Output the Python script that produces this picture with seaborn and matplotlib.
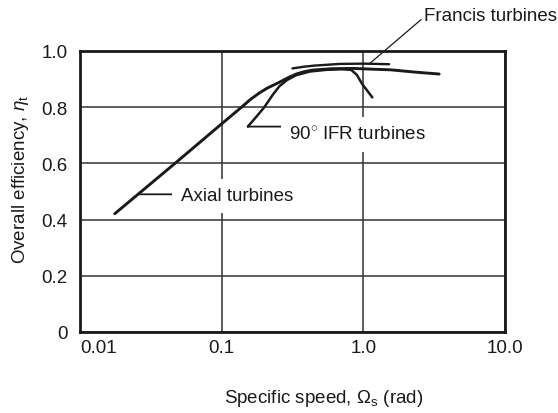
import matplotlib
matplotlib.use("Agg")
import matplotlib.pyplot as plt
import seaborn as sns
import pandas as pd

# Specific speed (rad) and overall efficiency for each turbine family
axial_speed = [0.0176, 0.0468, 0.099, 0.138, 0.16, 0.185, 0.21, 0.256, 0.30,
               0.336, 0.38, 0.437, 0.60, 0.85, 1.2, 1.56, 2.3, 3.43]
axial_eff = [0.421, 0.600, 0.739, 0.800, 0.828, 0.851, 0.868, 0.889, 0.907,
             0.918, 0.926, 0.932, 0.937, 0.938, 0.935, 0.933, 0.925, 0.918]

francis_speed = [0.316, 0.38, 0.45, 0.68, 1.0, 1.52]
francis_eff = [0.938, 0.944, 0.948, 0.954, 0.955, 0.953]

ifr_speed = [0.153, 0.175, 0.20, 0.23, 0.256, 0.29, 0.336, 0.42, 0.55, 0.70, 0.82,
             0.90, 0.98, 1.157]
ifr_eff = [0.731, 0.765, 0.800, 0.845, 0.875, 0.897, 0.914, 0.927, 0.933, 0.935, 0.933,
           0.915, 0.883, 0.835]

x_ticks = [0.01, 0.1, 1.0, 10.0]
x_tick_labels = ["0.01", "0.1", "1.0", "10.0"]
y_ticks = [0, 0.2, 0.4, 0.6, 0.8, 1.0]
y_tick_labels = ["0", "0.2", "0.4", "0.6", "0.8", "1.0"]

sns.set_theme(style="white")
plt.rcParams["font.family"] = ["Liberation Sans", "DejaVu Sans"]
plt.rcParams["mathtext.fontset"] = "custom"
plt.rcParams["mathtext.rm"] = "Liberation Sans"
plt.rcParams["mathtext.it"] = "Liberation Sans:italic"

FS = 13.5
INK = "#1a1a1a"

fig = plt.figure(figsize=(5.58, 4.14), dpi=100)
ax = fig.add_axes([80 / 558, 1 - 333 / 414, 425 / 558, 281 / 414])

axial = pd.DataFrame({"speed": axial_speed, "eff": axial_eff})
francis = pd.DataFrame({"speed": francis_speed, "eff": francis_eff})
ifr = pd.DataFrame({"speed": ifr_speed, "eff": ifr_eff})

sns.lineplot(data=axial, x="speed", y="eff", sort=False, estimator=None,
             color=INK, lw=2.1, ax=ax, zorder=5)
sns.lineplot(data=francis, x="speed", y="eff", sort=False, estimator=None,
             color=INK, lw=1.7, ax=ax, zorder=5)
sns.lineplot(data=ifr, x="speed", y="eff", sort=False, estimator=None,
             color=INK, lw=1.8, ax=ax, zorder=5)

ax.set_xscale("log")
ax.set_xlim(0.01, 10.0)
ax.set_ylim(0, 1.0)
ax.set_xticks(x_ticks)
ax.set_xticklabels(x_tick_labels)
ax.set_yticks(y_ticks)
ax.set_yticklabels(y_tick_labels)
ax.minorticks_off()
ax.tick_params(axis="both", length=0, labelsize=FS, colors=INK)
ax.tick_params(axis="x", pad=5)
ax.tick_params(axis="y", pad=9)
ax.get_xticklabels()[0].set_horizontalalignment("left")

ax.grid(True, which="major", color="#333333", lw=1.1)
ax.set_axisbelow(True)
for side in ax.spines.values():
    side.set_color(INK)
    side.set_linewidth(2.0)
    side.set_visible(True)

ax.set_xlabel(r"Specific speed, $\Omega_{\mathrm{s}}$ (rad)", fontsize=FS, color=INK)
ax.xaxis.set_label_coords(0.574, -0.195)
ax.set_ylabel(r"Overall efficiency, $\eta_{\mathrm{t}}$", fontsize=FS, color=INK)
ax.yaxis.label.set_va("center")
ax.yaxis.set_label_coords(-0.139, 0.545)

box = dict(facecolor="white", edgecolor="none", pad=6)
lead = dict(arrowstyle="-", color=INK, lw=1.3, shrinkA=0, shrinkB=0)

# Francis turbines label with a thin leader above the frame
ax.annotate("", xy=(1.10, 0.954), xytext=(2.56, 1.112), annotation_clip=False,
            arrowprops=dict(arrowstyle="-", color=INK, lw=0.9, shrinkA=0, shrinkB=0))
ax.text(2.66, 1.125, "Francis turbines", fontsize=FS, color=INK,
        ha="left", va="center", clip_on=False)

# 90 deg IFR turbines label
ax.annotate("", xy=(0.153, 0.731), xytext=(0.29, 0.731), arrowprops=lead)
ax.text(0.301, 0.703, r"90$^{\circ}$ IFR turbines", fontsize=FS, color=INK,
        ha="left", va="center", bbox=box, zorder=3)

# Axial turbines label
ax.annotate("", xy=(0.026, 0.490), xytext=(0.049, 0.490), arrowprops=lead)
ax.text(0.0514, 0.484, "Axial turbines", fontsize=FS, color=INK,
        ha="left", va="center", bbox=box, zorder=3)

fig.savefig("out.png", dpi=100)
